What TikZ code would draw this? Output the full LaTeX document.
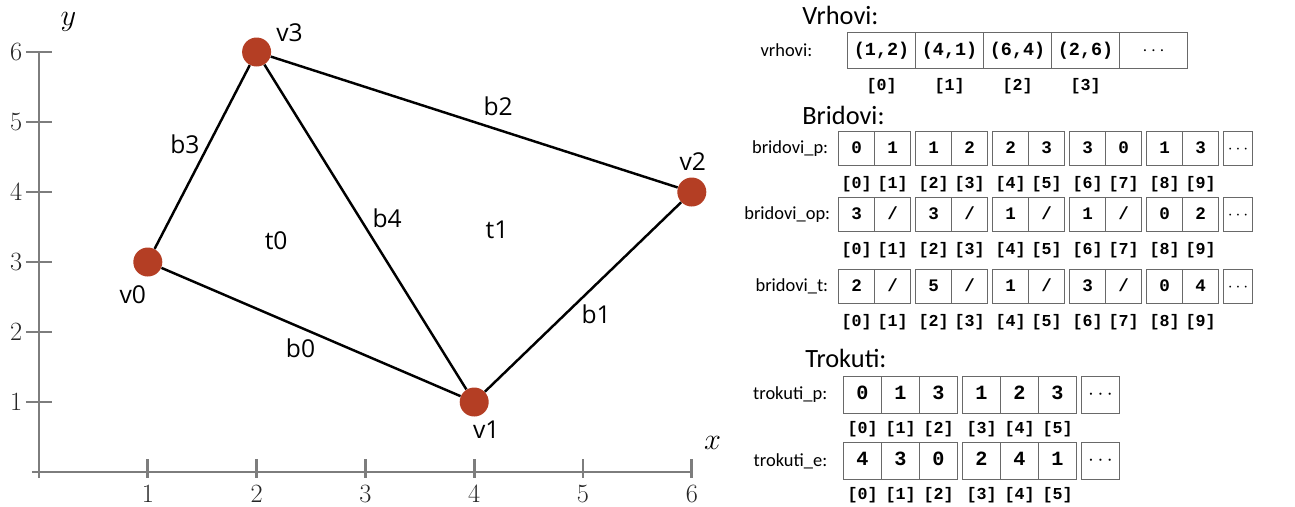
\documentclass[tikz,border=0pt]{standalone}
\usepackage{fontspec}
\usetikzlibrary{matrix,calc,positioning}

\newfontfamily\labfont{Open Sans}
\newfontfamily\capfont{Carlito}
\newfontfamily\cellfamily{Liberation Mono}

\definecolor{vertred}{RGB}{180,62,36}
\definecolor{axisgray}{RGB}{125,125,125}
\definecolor{cellgray}{RGB}{105,105,105}

% index under an array cell
\newcommand\ix[1]{[#1]}

\tikzset{
  axis/.style={draw=axisgray, line width=1.5pt},
  edge/.style={draw=black, line width=1.4pt},
  vert/.style={circle, fill=vertred, inner sep=0pt, minimum size=0.58cm},
  plab/.style={font=\labfont\fontsize{14}{16}\selectfont},
  ticklab/.style={font=\fontsize{15}{18}\selectfont, text=black!85},
  title/.style={font=\capfont\fontsize{15}{18}\selectfont, anchor=west, inner sep=0pt},
  rowlab/.style={font=\capfont\fontsize{10.5}{12}\selectfont, inner sep=0pt},
  arr/.style={matrix of nodes, anchor=north west, inner sep=0pt, outer sep=0pt,
              column sep=-0.6pt,
              nodes={draw=cellgray, line width=0.6pt, inner sep=0pt, anchor=center,
                     text height=1.6ex, text depth=.3ex},
              row 2/.style={nodes={draw=none, minimum width=0pt, minimum height=0pt,
                     text height=0.24cm, text depth=0.04cm,
                     font=\cellfamily\bfseries\fontsize{9.5}{11}\selectfont}}}
}

\begin{document}
\begin{tikzpicture}
\useasboundingbox (0,0) rectangle (25.9,-10.12);

%% plot of the mesh
\begin{scope}[shift={(0.78,-9.44)}, x=2.176cm, y=1.4cm]
  \draw[axis] (-0.065,0) -- (6,0);
  \draw[axis] (0,-0.086) -- (0,6);
  \foreach \i in {1,...,6} {
    \draw[axis] (\i,-0.08) -- (\i,0.19);
    \draw[axis] (-0.12,\i) -- (0.12,\i);
    \node[ticklab] (xt\i) at (\i,-0.31) {\i};
    \node[ticklab] (yt\i) at (-0.21,\i) {\i};
  }
  \node[font=\fontsize{17}{20}\selectfont] (ylab) at (0.27,6.43) {$y$};
  \node[font=\fontsize{17}{20}\selectfont] (xlab) at (6.19,0.41) {$x$};

  \node[vert] (v0) at (1,3) {};
  \node[vert] (v1) at (4,1) {};
  \node[vert] (v2) at (6,4) {};
  \node[vert] (v3) at (2,6) {};

  \draw[edge] (v0) -- node[plab, pos=.465, yshift=-0.42cm] (b0) {b0} (v1);
  \draw[edge] (v1) -- node[plab, pos=.567, yshift=-0.6cm] (b1) {b1} (v2);
  \draw[edge] (v3) -- node[plab, pos=.559, yshift=0.46cm] (b2) {b2} (v2);
  \draw[edge] (v0) -- node[plab, pos=.571, xshift=-0.48cm] (b3) {b3} (v3);
  \draw[edge] (v3) -- node[plab, pos=.474, xshift=0.54cm] (b4) {b4} (v1);

  \node[plab] (lv0) at ($(v0)+(-0.3cm,-0.66cm)$) {v0};
  \node[plab] (lv1) at ($(v1)+(0.24cm,-0.56cm)$) {v1};
  \node[plab] (lv2) at ($(v2)+(0.02cm,0.6cm)$) {v2};
  \node[plab] (lv3) at ($(v3)+(0.66cm,0.38cm)$) {v3};

  \node[plab] (t0) at (2.18,3.31) {t0};
  \node[plab] (t1) at (4.21,3.46) {t1};
\end{scope}

%% vertices
\node[title] (tv) at (16.04,-0.30) {Vrhovi:};
\matrix (vr) [arr, row sep=0.18cm,
              nodes={minimum width=1.36cm, minimum height=0.72cm,
                     font=\cellfamily\bfseries\fontsize{10.5}{12}\selectfont}] at (16.94,-0.64) {
(1,2) & (4,1) & (6,4) & (2,6) & $\cdots$ \\
\ix0 & \ix1 & \ix2 & \ix3 \\
};
\node[rowlab, left=0.7cm of vr-1-1] (lvr) {vrhovi:};

%% edges
\node[title] (tb) at (16.04,-2.30) {Bridovi:};
\matrix (bp) [arr, row sep=0.2cm,
              nodes={minimum width=0.72cm, minimum height=0.68cm,
                     font=\cellfamily\bfseries\fontsize{10}{12}\selectfont}] at (16.76,-2.62) {
0 & 1 &[1mm] 1 & 2 &[1mm] 2 & 3 &[1mm] 3 & 0 &[1mm] 1 & 3 &[1mm] |[minimum width=0.58cm]| $\cdots$ \\
\ix0 & \ix1 &[1mm] \ix2 & \ix3 &[1mm] \ix4 & \ix5 &[1mm] \ix6 & \ix7 &[1mm] \ix8 & \ix9 \\
};
\node[rowlab, left=0.2cm of bp-1-1] (lbp) {bridovi\_p:};

\matrix (bop) [arr, row sep=0.2cm,
              nodes={minimum width=0.72cm, minimum height=0.68cm,
                     font=\cellfamily\bfseries\fontsize{10}{12}\selectfont}] at (16.76,-3.94) {
3 & / &[1mm] 3 & / &[1mm] 1 & / &[1mm] 1 & / &[1mm] 0 & 2 &[1mm] |[minimum width=0.58cm]| $\cdots$ \\
\ix0 & \ix1 &[1mm] \ix2 & \ix3 &[1mm] \ix4 & \ix5 &[1mm] \ix6 & \ix7 &[1mm] \ix8 & \ix9 \\
};
\node[rowlab, left=0.16cm of bop-1-1] (lbop) {bridovi\_op:};

\matrix (bt) [arr, row sep=0.2cm,
              nodes={minimum width=0.72cm, minimum height=0.68cm,
                     font=\cellfamily\bfseries\fontsize{10}{12}\selectfont}] at (16.76,-5.38) {
2 & / &[1mm] 5 & / &[1mm] 1 & / &[1mm] 3 & / &[1mm] 0 & 4 &[1mm] |[minimum width=0.58cm]| $\cdots$ \\
\ix0 & \ix1 &[1mm] \ix2 & \ix3 &[1mm] \ix4 & \ix5 &[1mm] \ix6 & \ix7 &[1mm] \ix8 & \ix9 \\
};
\node[rowlab, left=0.2cm of bt-1-1] (lbt) {bridovi\_t:};

%% triangles
\node[title] (tt) at (16.10,-7.16) {Trokuti:};
\matrix (tp) [arr, row sep=0.14cm,
              nodes={minimum width=0.76cm, minimum height=0.74cm,
                     font=\cellfamily\bfseries\fontsize{11.5}{13}\selectfont}] at (16.86,-7.52) {
0 & 1 & 3 &[1mm] 1 & 2 & 3 &[1mm] $\cdots$ \\
\ix0 & \ix1 & \ix2 &[1mm] \ix3 & \ix4 & \ix5 \\
};
\node[rowlab, left=0.32cm of tp-1-1] (ltp) {trokuti\_p:};

\matrix (te) [arr, row sep=0.14cm,
              nodes={minimum width=0.76cm, minimum height=0.74cm,
                     font=\cellfamily\bfseries\fontsize{11.5}{13}\selectfont}] at (16.86,-8.84) {
4 & 3 & 0 &[1mm] 2 & 4 & 1 &[1mm] $\cdots$ \\
\ix0 & \ix1 & \ix2 &[1mm] \ix3 & \ix4 & \ix5 \\
};
\node[rowlab, left=0.32cm of te-1-1] (lte) {trokuti\_e:};
\end{tikzpicture}
\end{document}
